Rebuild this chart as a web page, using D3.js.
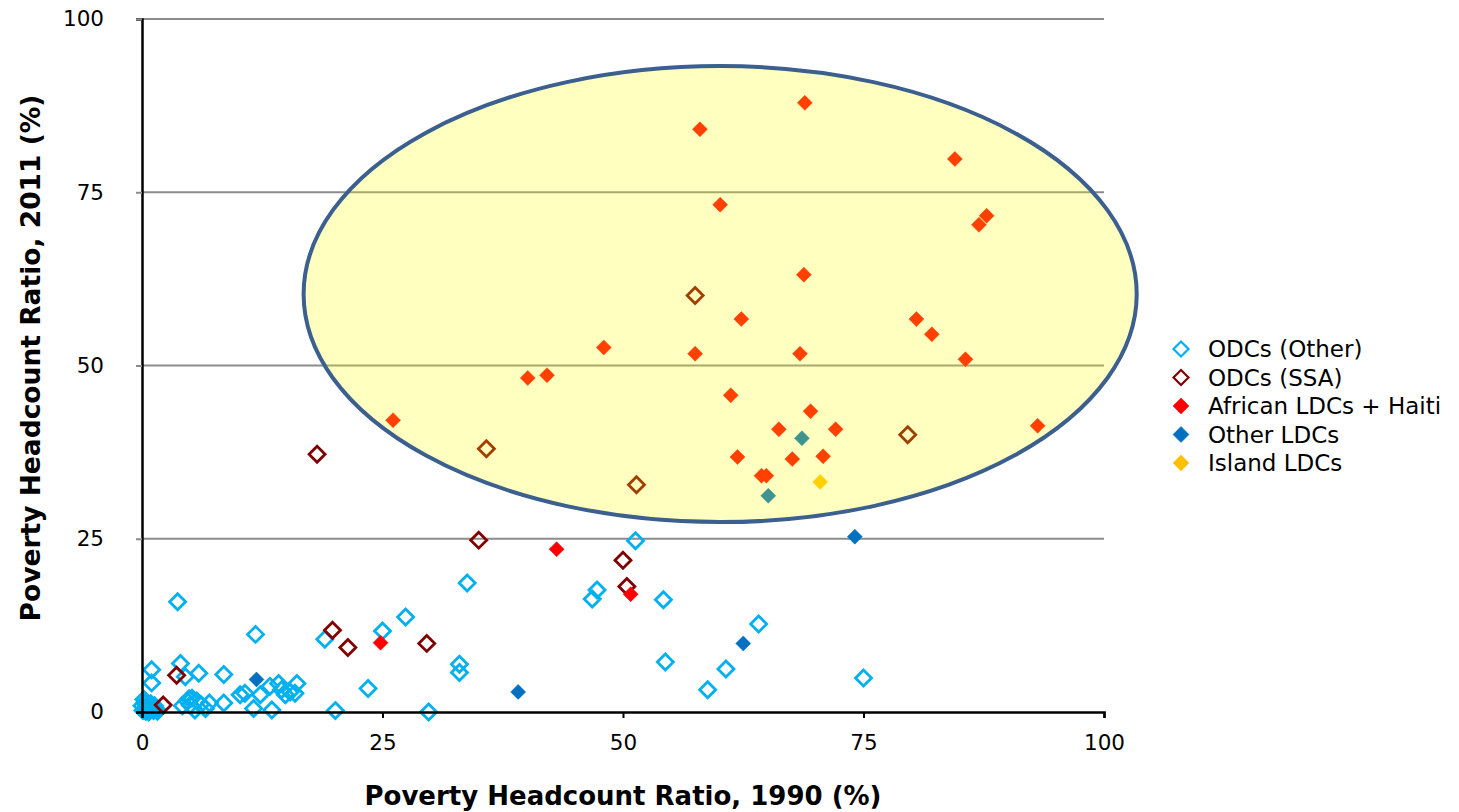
<!DOCTYPE html>
<html><head><meta charset="utf-8">
<script src="https://cdn.jsdelivr.net/npm/d3@7"></script>
<style>body{margin:0;background:#fff}svg{display:block}</style>
</head><body>
<svg id="c" width="1459" height="812"></svg>
<script>
const xTicks = [0, 25, 50, 75, 100];
const yTicks = [0, 25, 50, 75, 100];
const seriesNames = ["ODCs (Other)", "ODCs (SSA)", "African LDCs + Haiti", "Other LDCs", "Island LDCs"];

const odcOther = [[0.2,1.8],[0.3,0.5],[0.5,1.0],[0.8,0.3],[1.0,0.8],[1.2,0.2],[1.5,0.4],[0.4,0.1],[0.1,0.2],
 [0.6,0.6],[0.9,1.2],[0.3,1.3],[1.3,0.9],[0.7,0.0],[0.0,0.9],[1.6,0.1],
 [1.0,6.1],[1.0,4.2],[4.0,7.0],[3.7,15.9],[4.5,5.1],[5.9,5.6],[8.5,5.4],
 [4.2,0.9],[4.7,1.6],[5.2,2.0],[5.7,1.6],[6.1,1.1],[6.6,0.5],[5.5,0.3],[7.0,1.3],[8.5,1.3],[10.2,2.5],[4.9,1.9],[5.0,1.0],
 [11.8,11.2],[10.7,2.7],[12.3,2.5],[13.3,3.7],[14.2,4.1],[14.5,3.2],[14.9,2.5],[15.4,2.9],[16.1,4.1],[15.9,2.7],[11.6,0.5],[13.5,0.3],
 [19.0,10.5],[23.5,3.4],[20.1,0.2],[29.8,0.0],[25.0,11.7],[27.4,13.7],[33.8,18.6],[33.0,6.9],[33.0,5.7],
 [51.3,24.7],[47.3,17.6],[46.8,16.3],[54.2,16.2],[54.4,7.2],[58.8,3.2],[60.7,6.2],[64.1,12.7],[75.0,4.9]];
const odcSSA = [[3.6,5.3],[2.2,1.0],[19.8,11.8],[21.4,9.3],[29.6,9.9],[35.0,24.8],[50.0,21.9],[50.4,18.1],
 [18.2,37.2],[35.8,38.0],[51.4,32.8],[57.5,60.1],[79.6,40.0]];
const africanLDC = [[24.8,10.0],[43.1,23.5],[50.8,17.0],
 [58.0,84.1],[68.9,87.9],[84.5,79.8],[60.1,73.2],[87.0,70.3],[87.8,71.6],[68.8,63.1],[62.3,56.7],[80.5,56.7],[82.1,54.5],
 [48.0,52.6],[57.5,51.7],[68.4,51.7],[85.6,50.9],[40.1,48.2],[42.1,48.6],[61.2,45.7],[69.5,43.4],[26.1,42.1],[66.2,40.8],
 [72.1,40.8],[93.1,41.3],[61.9,36.8],[67.6,36.5],[70.8,36.9],[64.4,34.1],[64.9,34.1]];
const otherLDC = [[11.9,4.7],[39.1,2.9],[62.5,9.9],[74.1,25.3],[68.6,39.5],[65.1,31.2]];
const islandLDC = [[70.5,33.2]];
const highlight = {cx: 60.1, cy: 60.3, rx: 43.3, ry: 32.9};

const colors = ["#00b0f0", "#800000", "#ff0000", "#0070c0", "#ffc000"];
const filled = [false, false, true, true, true];
const allSeries = [odcOther, odcSSA, africanLDC, otherLDC, islandLDC];

const svg = d3.select("#c");
const L = 142, R = 1104, T = 19, B = 712;
const x = d3.scaleLinear().domain([0, 100]).range([L, R]);
const y = d3.scaleLinear().domain([0, 100]).range([B, T]);
const font = "'DejaVu Sans', Verdana, sans-serif";

// gridlines
svg.append("g").selectAll("line").data(yTicks.filter(d => d > 0)).join("line")
  .attr("x1", L).attr("x2", R).attr("y1", d => y(d)).attr("y2", d => y(d))
  .attr("stroke", "#8c8c8c").attr("stroke-width", 2);

function diamond(r){ return `M0,${-r}L${r},0L0,${r}L${-r},0Z`; }

allSeries.forEach((s, i) => {
  svg.append("g").selectAll("path").data(s).join("path")
    .attr("transform", d => `translate(${x(d[0])},${y(d[1])})`)
    .attr("d", diamond(filled[i] ? 7.5 : 8))
    .attr("fill", filled[i] ? colors[i] : "none")
    .attr("stroke", colors[i])
    .attr("stroke-width", filled[i] ? 0.5 : 2.8);
});

// axes
const xa = svg.append("g").attr("transform", `translate(0,${B})`)
  .call(d3.axisBottom(x).tickValues(xTicks).tickSize(6).tickPadding(17));
const ya = svg.append("g").attr("transform", `translate(${L},0)`)
  .call(d3.axisLeft(y).tickValues(yTicks).tickSize(6).tickPadding(32));
[xa, ya].forEach(a => {
  a.select(".domain").attr("stroke", "#000").attr("stroke-width", 2.5);
  a.selectAll(".tick line").attr("stroke", "#000").attr("stroke-width", 2);
  a.selectAll("text").attr("font-family", font).attr("font-size", 21.5).attr("fill", "#000");
});
ya.selectAll(".tick line").attr("stroke", "#8c8c8c");
ya.selectAll(".tick").filter(d => d === 0).select("line").attr("stroke", "#000");

// highlight ellipse
svg.append("ellipse")
  .attr("cx", x(highlight.cx)).attr("cy", y(highlight.cy))
  .attr("rx", x(highlight.rx) - x(0)).attr("ry", y(0) - y(highlight.ry))
  .attr("fill", "#ffff00").attr("fill-opacity", 0.25)
  .attr("stroke", "#3b5f8e").attr("stroke-width", 4);

// axis titles
svg.append("text").attr("x", 623).attr("y", 805).attr("text-anchor", "middle")
  .attr("font-family", font).attr("font-weight", "bold").attr("font-size", 26)
  .text("Poverty Headcount Ratio, 1990 (%)");
svg.append("text").attr("transform", `translate(40,358) rotate(-90)`).attr("text-anchor", "middle")
  .attr("font-family", font).attr("font-weight", "bold").attr("font-size", 26.5)
  .text("Poverty Headcount Ratio, 2011 (%)");

// legend
const lg = svg.append("g");
seriesNames.forEach((n, i) => {
  const yy = 349 + i * 28.5;
  lg.append("path").attr("transform", `translate(1181,${yy})`)
    .attr("d", diamond(filled[i] ? 8 : 7.5))
    .attr("fill", filled[i] ? colors[i] : "none")
    .attr("stroke", colors[i]).attr("stroke-width", filled[i] ? 0.5 : 2.2);
  lg.append("text").attr("x", 1208).attr("y", yy + 8)
    .attr("font-family", font).attr("font-size", 23).text(n);
});
</script>
</body></html>
